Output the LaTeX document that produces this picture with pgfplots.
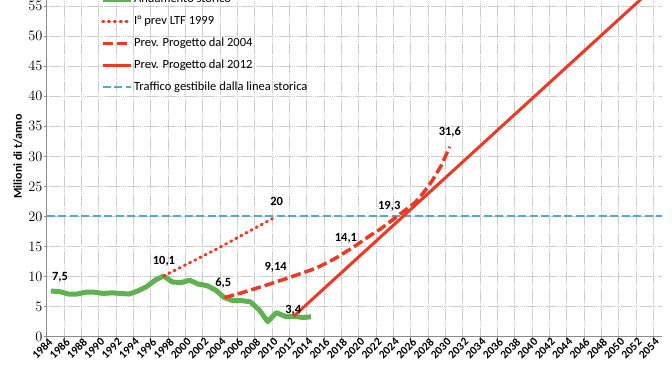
\documentclass[border=0pt]{standalone}
\usepackage{pgfplots}
\pgfplotsset{compat=1.18}
\usepackage{fontspec}
\setmainfont{Carlito}
\definecolor{cgreen}{RGB}{96,178,80}
\definecolor{cred}{RGB}{238,56,36}
\definecolor{cblue}{RGB}{80,170,200}
\definecolor{cgrid}{RGB}{205,205,205}
\definecolor{caxis}{RGB}{140,140,140}
\begin{document}
\begin{tikzpicture}[font=\fontsize{12}{14}\selectfont]
\useasboundingbox (-46.7pt,-35.3pt) rectangle (625.3pt,336.7pt);
\clip (-46.7pt,-35.3pt) rectangle (625.3pt,336.7pt);
\begin{axis}[
  scale only axis, width=615.3pt, height=360.6pt,
  at={(0pt,0pt)}, anchor=south west,
  xmin=1984, xmax=2055, ymin=0, ymax=60,
  axis x line*=bottom, axis y line*=left,
  axis line style={caxis, line width=0.8pt},
  tick align=outside,
  major tick length=3pt, minor tick length=3pt,
  tick style={caxis, line width=0.6pt},
  xtick={1984.5,1986.5,...,2054.5},
  xticklabels={1984,1986,1988,1990,1992,1994,1996,1998,2000,2002,2004,2006,2008,2010,2012,2014,2016,2018,2020,2022,2024,2026,2028,2030,2032,2034,2036,2038,2040,2042,2044,2046,2048,2050,2052,2054},
  every major x tick/.style={draw=none},
  minor xtick={1984,1986,...,2054},
  xminorgrids=true, ymajorgrids=true,
  grid style={cgrid, line width=0.6pt, dash pattern=on 1.5pt off 0.4pt},
  minor grid style={cgrid, line width=0.6pt, dash pattern=on 1.5pt off 0.4pt},
  ytick={0,5,...,60},
  xticklabel style={rotate=45, anchor=east, font=\fontsize{11.5}{12}\selectfont\bfseries, inner sep=0.5pt},
  yticklabel style={font=\fontsize{13.5}{14}\selectfont\bfseries, inner sep=1pt},
  ylabel={Milioni di t/anno},
  ylabel style={font=\fontsize{12}{14}\selectfont\bfseries, at={(axis description cs:-0.0466,0.5)}, anchor=center},
  legend style={at={(rel axis cs:0.0866,0.673)}, anchor=south west, draw=none, fill=none, inner sep=0pt, row sep=8.9pt,
    nodes={inner sep=1pt, text height=8.5pt, text depth=2.5pt, font=\fontsize{12.5}{14}\selectfont}},
  legend cell align=left,
  legend image code/.code={\draw[#1] (0pt,0pt) -- (28pt,0pt);},
]
% threshold line (drawn first, legend entry added at the end)
\addplot[cblue, line width=2pt, dash pattern=on 8pt off 3.5pt, forget plot] coordinates {(1984,20) (2055,20)};

\addplot[cgreen, line width=5pt, line join=round] coordinates {
(1984.5,7.6) (1985.5,7.5) (1986.5,7.1) (1987.5,7.1) (1988.5,7.4) (1989.5,7.4)
(1990.5,7.2) (1991.5,7.3) (1992.5,7.2) (1993.5,7.1) (1994.5,7.6) (1995.5,8.3)
(1996.5,9.4) (1997.5,10.1) (1998.5,9.1) (1999.5,9.0) (2000.5,9.4) (2001.5,8.75)
(2002.5,8.5) (2003.5,7.75) (2004.5,6.5) (2005.5,6.0) (2006.5,6.0) (2007.5,5.8)
(2008.5,4.5) (2009.5,2.5) (2010.5,4.0) (2011.5,3.4) (2012.5,3.4) (2013.5,3.2) (2014.5,3.3)};
\addlegendentry{Andamento storico}

\addplot[cred, line width=3pt, dash pattern=on 1.2pt off 4.6pt, line cap=round] coordinates {
(1997.5,10.1) (2003.5,14.5) (2010.5,20)};
\addlegendentry{I° prev LTF 1999}

\addplot[cred, line width=3.5pt, dash pattern=on 10pt off 4pt] coordinates {
(2004.5,6.5) (2005.5,6.9) (2006.5,7.3) (2007.5,7.75) (2008.5,8.2) (2009.5,8.65)
(2010.5,9.14) (2011.5,9.6) (2012.5,10.1) (2013.5,10.6) (2014.5,11.1) (2015.5,11.7)
(2016.5,12.4) (2017.5,13.2) (2018.5,14.1) (2019.5,15.0) (2020.5,16.0) (2021.5,17.0)
(2022.5,17.9) (2023.5,19.0) (2024.5,20.1) (2025.5,21.2) (2026.5,22.3) (2027.5,24.0)
(2028.5,26.0) (2029.5,28.4) (2030.5,31.6)};
\addlegendentry{Prev. Progetto dal 2004}

\addplot[cred, line width=3pt] coordinates {(2012.5,3.4) (2054.5,58.7)};
\addlegendentry{Prev. Progetto dal 2012}

\addlegendimage{cblue, line width=2pt, dash pattern=on 8pt off 3.5pt}
\addlegendentry{Traffico gestibile dalla linea storica}

\begin{scope}[every node/.style={font=\fontsize{12.5}{14}\selectfont\bfseries}]
\node at (axis cs:1985.53,9.82) {7,5};
\node at (axis cs:1997.53,12.48) {10,1};
\node at (axis cs:2010.54,22.46) {20};
\node at (axis cs:2004.38,8.89) {6,5};
\node at (axis cs:2010.42,11.48) {9,14};
\node at (axis cs:2012.45,4.44) {3,4};
\node at (axis cs:2018.53,16.37) {14,1};
\node at (axis cs:2023.53,21.75) {19,3};
\node at (axis cs:2030.53,34.0) {31,6};
\end{scope}
\end{axis}
\end{tikzpicture}
\end{document}
